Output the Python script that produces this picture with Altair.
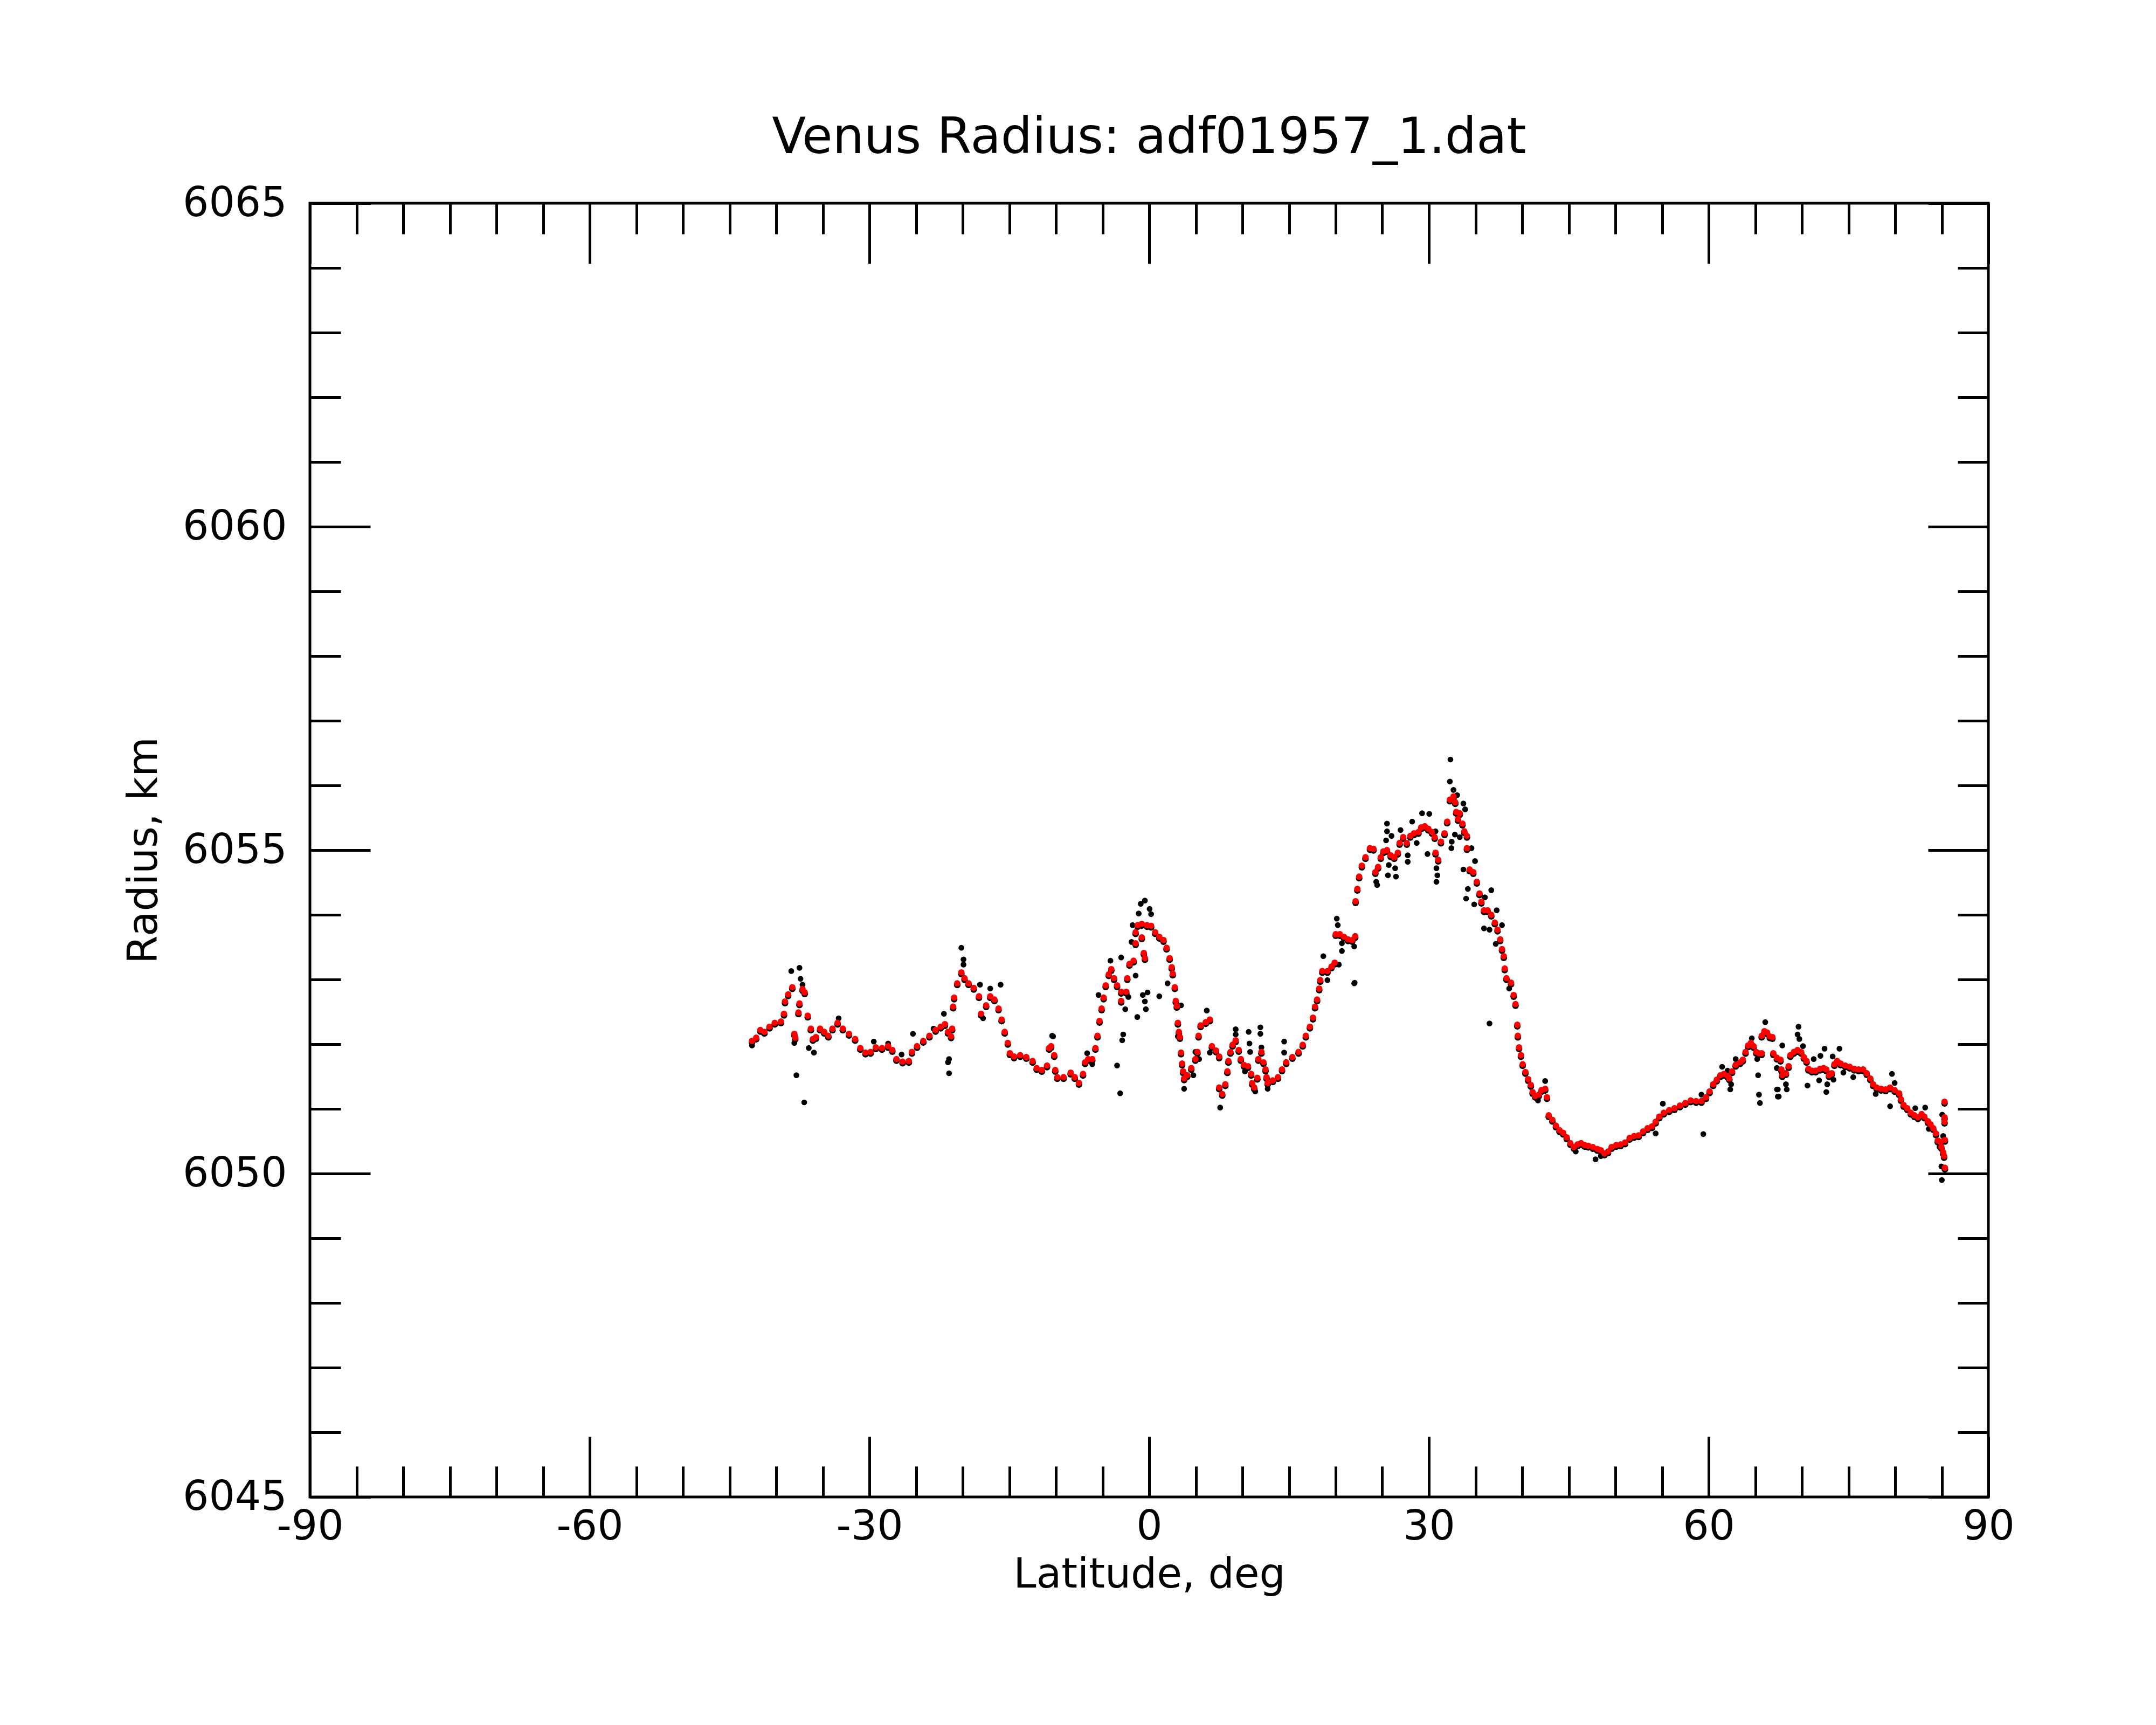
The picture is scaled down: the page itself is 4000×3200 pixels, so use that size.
import altair as alt
import pandas as pd

# ---------------- data ----------------
# smoothed radius (red points)
red_lat = [
    -42.59, -42.14, -41.70, -41.26, -40.71, -40.15, -39.49, -39.16, -39.05, -38.71,
    -38.27, -38.05, -37.95, -37.61, -37.50, -37.17, -36.94, -36.61, -36.28, -36.06,
    -35.73, -35.29, -34.84, -34.40, -33.96, -33.41, -32.85, -32.19, -31.53, -30.97,
    -30.42, -29.87, -29.31, -28.65, -27.99, -27.54, -27.10, -26.44, -25.77, -25.44,
    -24.89, -24.22, -23.56, -22.90, -22.35, -21.90, -21.57, -21.24, -21.13, -21.02,
    -20.91, -20.58, -20.14, -19.80, -19.36, -18.81, -18.25, -18.03, -17.48, -17.04,
    -16.59, -16.15, -15.82, -15.49, -15.16, -14.94, -14.49, -13.83, -13.17, -12.50,
    -12.06, -11.51, -10.95, -10.73, -10.51, -10.18, -10.07, -9.85, -9.18,
    -8.42, -7.98, -7.53, -7.09, -6.87, -6.54, -6.10, -5.76, -5.54, -5.32,
    -5.10, -4.88, -4.66, -4.33, -4.06, -3.77, -3.44, -3.00, -2.45, -3.00,
    -2.34, -2.11, -1.67, -1.45, -1.45, -1.23, -0.79, -0.57, -0.45, -0.79,
    -0.23, 0.21, 0.65, 1.09, 1.54, 1.87, 2.20, 2.42, 2.53, 2.75,
    2.86, 2.97, 3.08, 3.19, 3.30, 3.42, 3.53, 3.64, 3.75, 4.08,
    4.52, 4.96, 5.18, 5.30, 5.52, 6.07, 6.51, 6.73, 7.18, 7.51,
    7.51, 7.84, 8.17, 8.39, 8.50, 8.72, 8.95, 9.28, 9.61, 9.83,
    10.16, 10.60, 10.94, 11.05, 11.27, 11.60, 11.71, 12.04, 12.26, 12.48,
    12.59, 12.71, 13.26, 13.81, 14.25, 14.70, 15.36, 16.02, 16.47, 16.80,
    17.24, 17.57, 17.79, 18.01, 18.24, 18.35, 18.57, 19.12, 19.56, 19.90,
    20.01, 20.45, 20.89, 21.33, 21.77, 22.10,
    22.14, 22.33, 22.52, 22.81, 23.20, 23.68, 24.06, 24.26, 24.55, 24.84,
    25.12, 25.51, 25.90, 26.28, 26.67, 26.86, 27.24, 27.63, 28.01, 28.40,
    28.88, 29.17, 29.56, 29.94, 30.33, 30.62, 30.71, 31.00, 31.29, 31.68,
    31.96, 32.25, 32.64, 32.83, 32.93, 33.12, 33.31, 33.60, 33.80, 34.08,
    34.08, 34.37, 34.76, 35.14, 35.43, 35.63, 35.91, 36.30, 36.69, 37.07,
    37.36, 37.65, 37.84, 38.03, 38.13, 38.32, 38.81, 39.09, 39.29, 39.48,
    39.54, 39.67, 39.87, 40.06, 40.35, 40.64, 40.93, 41.12, 41.41, 41.79,
    42.08, 42.47, 42.66, 42.85,
    43.24, 43.63, 44.01, 44.40, 44.78, 45.17, 45.55, 45.94, 46.32, 46.71,
    47.09, 47.58, 48.06, 48.44, 48.83, 49.21, 49.60, 50.08, 50.56, 51.04,
    51.53, 52.01, 52.49, 52.97, 53.45, 53.93, 54.32, 54.71, 55.19, 55.77,
    56.34, 56.92, 57.50, 58.08, 58.66, 59.23, 59.72, 60.10, 60.49, 60.87,
    61.26, 61.64, 62.03, 62.22, 62.51, 62.90, 63.38, 63.67, 63.96, 64.24,
    64.53, 64.82, 65.11, 65.40, 65.69, 65.69, 65.98, 66.27, 66.56,
    66.84, 66.94, 67.32, 67.71, 67.80, 67.90, 68.29, 68.58, 68.77, 69.15,
    69.54, 69.92, 70.21, 70.50, 70.70, 71.08, 71.47, 71.95, 72.33, 72.62,
    72.91, 73.20, 73.49, 73.78, 74.16, 74.65, 75.13, 75.61, 76.09, 76.57,
    76.96, 77.34, 77.63, 78.02, 78.50, 78.98, 79.46, 79.95, 80.43, 80.62,
    80.91, 81.30, 81.68, 82.07, 82.45, 82.84, 83.13, 83.51, 83.80, 84.09,
    84.38, 84.57, 84.86, 84.96, 85.15, 85.25, 85.34, 85.30, 85.30, 85.30,
    85.34,
]
red_radius = [
    6052.05, 6052.10, 6052.22, 6052.19, 6052.27, 6052.33, 6052.35, 6052.47, 6052.66, 6052.77,
    6052.88, 6052.16, 6052.10, 6052.49, 6052.63, 6052.85, 6052.80, 6052.44, 6052.24, 6052.08,
    6052.11, 6052.24, 6052.19, 6052.13, 6052.24, 6052.33, 6052.24, 6052.16, 6052.08, 6051.94,
    6051.87, 6051.88, 6051.95, 6051.94, 6051.97, 6051.91, 6051.77, 6051.73, 6051.74, 6051.88,
    6051.97, 6052.05, 6052.13, 6052.22, 6052.27, 6052.31, 6052.19, 6052.12, 6052.24, 6052.58,
    6052.72, 6052.94, 6053.11, 6053.02, 6052.94, 6052.87, 6052.74, 6052.47, 6052.60, 6052.74,
    6052.69, 6052.55, 6052.38, 6052.19, 6052.02, 6051.86, 6051.81, 6051.83, 6051.80, 6051.74,
    6051.63, 6051.60, 6051.67, 6051.94, 6051.97, 6051.83, 6051.60, 6051.49, 6051.49,
    6051.56, 6051.49, 6051.40, 6051.54, 6051.72, 6051.77, 6051.77, 6051.94, 6052.13, 6052.36,
    6052.55, 6052.72, 6052.91, 6053.08, 6053.16, 6053.02, 6052.91, 6052.81, 6052.81, 6052.67,
    6053.02, 6053.24, 6053.29, 6053.56, 6053.73, 6053.84, 6053.86, 6053.41, 6053.33, 6053.65,
    6053.84, 6053.83, 6053.73, 6053.66, 6053.61, 6053.49, 6053.33, 6053.19, 6053.09, 6052.88,
    6052.67, 6052.59, 6052.33, 6052.19, 6052.11, 6051.87, 6051.70, 6051.58, 6051.47, 6051.52,
    6051.63, 6051.77, 6051.88, 6052.13, 6052.29, 6052.34, 6052.38, 6051.97, 6051.90, 6051.81,
    6051.33, 6051.23, 6051.38, 6051.58, 6051.74, 6051.88, 6051.99, 6052.06, 6051.91, 6051.77,
    6051.68, 6051.66, 6051.54, 6051.40, 6051.33, 6051.48, 6051.77, 6051.88, 6051.72, 6051.61,
    6051.49, 6051.40, 6051.44, 6051.49, 6051.61, 6051.72, 6051.80, 6051.88, 6051.99, 6052.13,
    6052.27, 6052.41, 6052.58, 6052.69, 6052.86, 6052.99, 6053.13, 6053.13, 6053.20, 6053.26,
    6053.70, 6053.70, 6053.66, 6053.62, 6053.61, 6053.67,
    6054.21, 6054.40, 6054.59, 6054.76, 6054.89, 6055.03, 6055.02, 6054.66, 6054.74, 6054.89,
    6054.98, 6055.00, 6054.92, 6054.89, 6054.96, 6055.11, 6055.20, 6055.11, 6055.22, 6055.26,
    6055.28, 6055.35, 6055.37, 6055.33, 6055.28, 6055.20, 6054.96, 6054.85, 6055.13, 6055.26,
    6055.44, 6055.78, 6055.83, 6055.74, 6055.59, 6055.48, 6055.57, 6055.41, 6055.29, 6055.22,
    6055.03, 6054.70, 6054.66, 6054.51, 6054.33, 6054.20, 6054.07, 6054.07, 6054.00, 6053.88,
    6053.77, 6053.62, 6053.47, 6053.36, 6053.17, 6053.02, 6052.95, 6052.76, 6052.62, 6052.30,
    6052.13, 6051.95, 6051.83, 6051.69, 6051.57, 6051.46, 6051.37, 6051.26, 6051.20, 6051.22,
    6051.29, 6051.31, 6051.18, 6050.90,
    6050.83, 6050.74, 6050.67, 6050.63, 6050.56, 6050.47, 6050.41, 6050.45, 6050.47, 6050.44,
    6050.43, 6050.41, 6050.38, 6050.36, 6050.31, 6050.34, 6050.41, 6050.44, 6050.45, 6050.48,
    6050.55, 6050.58, 6050.59, 6050.65, 6050.70, 6050.73, 6050.80, 6050.88, 6050.94, 6050.98,
    6051.01, 6051.05, 6051.09, 6051.13, 6051.12, 6051.12, 6051.18, 6051.27, 6051.38, 6051.45,
    6051.52, 6051.54, 6051.51, 6051.47, 6051.58, 6051.68, 6051.72, 6051.76, 6051.88, 6051.98,
    6052.02, 6051.97, 6051.88, 6051.86, 6051.86, 6052.13, 6052.20, 6052.18, 6052.12,
    6052.11, 6051.86, 6051.79, 6051.76, 6051.61, 6051.52, 6051.55, 6051.66, 6051.83, 6051.88,
    6051.91, 6051.88, 6051.80, 6051.74, 6051.62, 6051.59, 6051.59, 6051.62, 6051.63, 6051.61,
    6051.52, 6051.55, 6051.69, 6051.74, 6051.70, 6051.67, 6051.65, 6051.62, 6051.61, 6051.61,
    6051.55, 6051.47, 6051.38, 6051.33, 6051.31, 6051.30, 6051.33, 6051.29, 6051.24, 6051.15,
    6051.06, 6051.01, 6050.94, 6050.90, 6050.87, 6050.92, 6050.88, 6050.81, 6050.76, 6050.70,
    6050.62, 6050.51, 6050.49, 6050.41, 6050.33, 6050.27, 6050.52, 6050.80, 6050.87, 6051.11,
    6050.09,
]

# raw radius points that stand apart from the smoothed trace (black points)
black_lat = [
    -42.59, -38.38, -37.50, -37.39, -37.17, -38.05, -37.83, -36.99, -36.50, -35.95,
    -33.30, -29.53, -27.99, -26.55, -25.33, -23.12, -22.01, -21.46, -21.57, -21.46,
    -20.14, -19.91, -19.91, -18.14, -17.04, -15.93, -17.81, -10.40,
    -10.30, -6.65, -6.10, -5.43, -4.15, -3.44, -3.11, -3.00, -2.89, -2.78,
    -2.56, -2.23, -1.89, -1.78, -1.45, -1.27, -1.12, -0.90, -0.46, 0.05,
    0.21, -0.68, -0.46, -0.35, -0.17, 1.09, 1.98, 3.42, 3.08, 3.75,
    4.74, 4.96, 5.36, 6.18, 6.51, 7.62, 9.28, 9.28, 10.27, 10.67,
    10.76, 10.83, 11.93, 11.93, 12.04, 11.38, 12.71, 14.48, 14.48, 18.68,
    19.12, 20.34, 20.12, 20.23, 20.67, 20.67, 21.99, 21.99,
    32.31, 32.25, 32.64, 33.03, 33.70, 33.89, 25.51, 25.51, 25.99, 25.41,
    26.96, 28.21, 29.27, 30.04, 30.71, 28.69, 27.73, 27.73, 25.70, 26.38,
    25.61, 26.47, 24.35, 24.45, 29.85, 30.81, 30.91, 30.81, 32.45, 32.41,
    32.79, 33.31, 34.57, 34.95, 33.70, 34.18, 33.99, 34.86, 36.69, 36.01,
    35.91, 36.50, 37.27, 37.84, 37.17, 38.61, 36.50, 22.04, 42.47, 41.70,
    45.75, 47.87, 48.44, 55.09, 54.32, 59.43, 59.23, 61.45, 62.03, 62.41,
    62.32, 62.90, 64.63, 66.07, 65.21, 65.31, 65.40, 65.50, 67.33, 67.33,
    67.42,
    69.64, 69.54, 69.73, 67.90, 70.12, 72.43, 74.03, 71.99, 71.27, 73.30,
    67.32, 68.29, 68.38, 67.42, 67.52, 70.60, 71.85, 72.72, 72.62, 73.39,
    74.45, 75.51, 79.66, 79.95, 79.46, 77.92, 82.16, 83.22, 83.61, 85.05,
    85.15, 84.76, 84.96, 85.01,
]
black_radius = [
    6051.98, 6053.13, 6053.18, 6053.01, 6052.92, 6052.02, 6051.52, 6051.10, 6051.94, 6051.87,
    6052.40, 6052.04, 6052.01, 6051.84, 6052.16, 6052.24, 6052.47, 6051.77, 6051.72, 6051.55,
    6053.49, 6053.31, 6053.23, 6052.92, 6052.86, 6052.92, 6052.40, 6052.13,
    6052.12, 6051.86, 6051.69, 6052.76, 6053.29, 6051.67, 6051.24, 6053.34, 6052.06, 6052.15,
    6052.54, 6052.73, 6053.58, 6053.84, 6053.06, 6052.42, 6054.02, 6054.17, 6054.22, 6054.09,
    6054.01, 6052.76, 6052.66, 6052.54, 6052.80, 6052.74, 6052.94, 6052.60, 6052.12, 6051.31,
    6051.52, 6051.88, 6051.77, 6052.52, 6051.87, 6051.02, 6052.23, 6052.15, 6051.58, 6052.19,
    6052.01, 6051.88, 6052.26, 6052.16, 6051.95, 6051.27, 6051.31, 6052.04, 6051.87, 6053.36,
    6052.99, 6053.23, 6053.94, 6053.84, 6053.56, 6053.44, 6052.94, 6053.51,
    6056.40, 6056.06, 6055.93, 6055.85, 6055.72, 6055.63, 6055.41, 6055.29, 6055.22, 6055.15,
    6055.31, 6055.44, 6055.57, 6055.56, 6055.29, 6055.11, 6054.92, 6054.82, 6054.77, 6054.72,
    6054.61, 6054.59, 6054.51, 6054.46, 6054.94, 6054.72, 6054.61, 6054.51, 6055.13, 6055.03,
    6055.24, 6055.20, 6055.03, 6054.83, 6054.70, 6054.40, 6054.25, 6054.16, 6054.38, 6054.27,
    6053.79, 6053.77, 6054.07, 6053.84, 6053.55, 6052.86, 6052.32, 6052.95, 6051.43, 6051.13,
    6050.34, 6050.22, 6050.27, 6051.08, 6050.62, 6050.61, 6051.22, 6051.65, 6051.59, 6051.38,
    6051.30, 6051.77, 6052.09, 6052.34, 6051.77, 6051.52, 6051.22, 6051.09, 6051.63, 6051.30,
    6051.19,
    6052.27, 6052.15, 6052.08, 6051.98, 6051.97, 6051.93, 6051.93, 6051.82, 6051.77, 6051.81,
    6051.63, 6051.38, 6051.30, 6051.30, 6051.19, 6051.36, 6051.44, 6051.38, 6051.26, 6051.45,
    6051.56, 6051.49, 6051.54, 6051.40, 6051.04, 6051.23, 6051.01, 6051.02, 6050.69, 6050.91,
    6050.58, 6050.41, 6050.11, 6049.90,
]

# axis tick values
x_major = [-90, -60, -30, 0, 30, 60, 90]
x_minor = [-90, -85, -80, -75, -70, -65, -60, -55, -50, -45, -40, -35, -30, -25, -20, -15,
           -10, -5, 0, 5, 10, 15, 20, 25, 30, 35, 40, 45, 50, 55, 60, 65, 70, 75, 80, 85, 90]
y_major = [6045, 6050, 6055, 6060, 6065]
y_minor = [6045, 6046, 6047, 6048, 6049, 6050, 6051, 6052, 6053, 6054, 6055,
           6056, 6057, 6058, 6059, 6060, 6061, 6062, 6063, 6064, 6065]

TITLE = "Venus Radius: adf01957_1.dat"
X_TITLE = "Latitude, deg"
Y_TITLE = "Radius, km"

# ---------------- chart ----------------
W, H = 3114, 2400
FONT = "DejaVu Sans"

red_df = pd.DataFrame({"lat": red_lat, "radius": red_radius})
black_df = pd.DataFrame({"lat": black_lat, "radius": black_radius})

xs = alt.Scale(domain=[-90, 90], nice=False, zero=False)
ys = alt.Scale(domain=[6045, 6065], nice=False, zero=False)

label_x_axis = alt.Axis(
    orient="bottom", values=x_major, ticks=False, domain=False, grid=False,
    labelFont=FONT, labelFontSize=76, labelColor="black", labelPadding=18,
    labelExpr="'' + datum.value", labelFlush=False, labelOverlap=False, labelLimit=1000,
    title=X_TITLE, titleFont=FONT, titleFontSize=76, titleFontWeight="normal",
    titleColor="black", titlePadding=14,
)
label_y_axis = alt.Axis(
    orient="left", values=y_major, ticks=False, domain=False, grid=False,
    labelFont=FONT, labelFontSize=76, labelColor="black", labelPadding=43,
    labelExpr="'' + datum.value", labelFlush=False, labelOverlap=False, labelLimit=1000,
    title=Y_TITLE, titleFont=FONT, titleFontSize=76, titleFontWeight="normal",
    titleColor="black", titlePadding=69, titleLimit=3000,
)


def tick_axis(orient, offset, values, size):
    return alt.Axis(
        orient=orient, offset=offset, values=values, ticks=True, tickSize=size,
        tickWidth=5, tickColor="black", labels=False, domain=False, grid=False,
        title=None,
    )


trail = alt.Chart(red_df).mark_circle(color="black", size=150, opacity=1, yOffset=3).encode(
    x=alt.X("lat:Q", scale=xs, axis=label_x_axis),
    y=alt.Y("radius:Q", scale=ys, axis=label_y_axis),
)
raw = alt.Chart(black_df).mark_circle(color="black", size=115, opacity=1).encode(
    x=alt.X("lat:Q", scale=xs, axis=None),
    y=alt.Y("radius:Q", scale=ys, axis=None),
)
smooth = alt.Chart(red_df).mark_circle(color="#ff0000", size=140, opacity=1).encode(
    x=alt.X("lat:Q", scale=xs, axis=None),
    y=alt.Y("radius:Q", scale=ys, axis=None),
)


def tick_layer(xorient, yorient, xv, yv, size, xoff, yoff):
    return alt.Chart(red_df).mark_circle(opacity=0, size=1).encode(
        x=alt.X("lat:Q", scale=xs, axis=tick_axis(xorient, xoff, xv, size)),
        y=alt.Y("radius:Q", scale=ys, axis=tick_axis(yorient, yoff, yv, size)),
    )


t1 = tick_layer("top", "right", x_major, y_major, 112, -H, -W)     # bottom & left major, inward
t2 = tick_layer("top", "right", x_minor, y_minor, 57, -H, -W)      # bottom & left minor, inward
t3 = tick_layer("bottom", "left", x_major, y_major, 112, -H, -W)   # top & right major, inward
t4 = tick_layer("bottom", "left", x_minor, y_minor, 57, -H, -W)    # top & right minor, inward

chart = (
    alt.layer(trail, raw, smooth, t1, t2, t3, t4)
    .resolve_axis(x="independent", y="independent")
    .properties(
        width=W,
        height=H,
        title=alt.TitleParams(
            text=TITLE, font=FONT, fontSize=92, fontWeight="normal", color="black",
            anchor="middle", frame="group", offset=-37, baseline="alphabetic",
        ),
        autosize=alt.AutoSizeParams(type="none"),
        padding={"left": 567, "top": 369, "right": 300, "bottom": 400},
    )
    .configure(background="white")
    .configure_view(stroke="black", strokeWidth=5)
)

chart.save("out.html", embed_options={"renderer": "svg", "actions": False})
